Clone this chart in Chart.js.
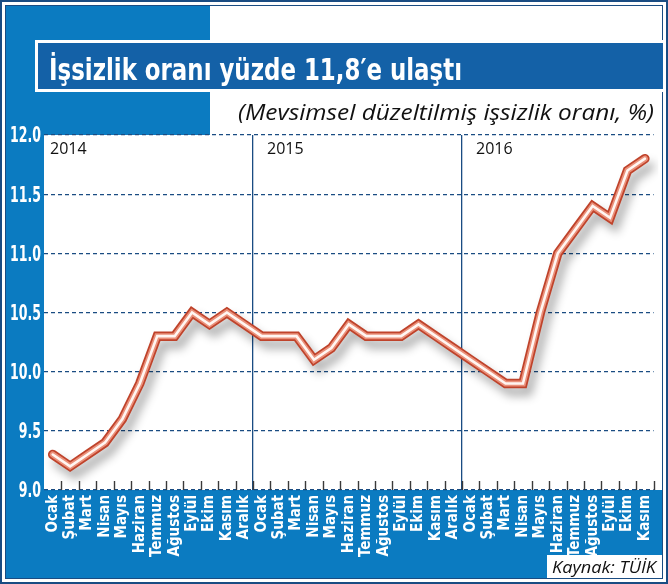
<!DOCTYPE html>
<html>
<head>
<meta charset="utf-8">
<script src="https://cdn.jsdelivr.net/npm/chart.js@4"></script>
<style>
  html, body { margin: 0; padding: 0; background: #fff; }
  #wrap { width: 668px; height: 584px; }
</style>
</head>
<body>
<div id="wrap"><canvas id="grafico" width="668" height="584"></canvas></div>
<script>
// Ay adlari ve yillar
const months = ['Ocak', 'Şubat', 'Mart', 'Nisan', 'Mayıs', 'Haziran', 'Temmuz', 'Ağustos', 'Eylül', 'Ekim', 'Kasım', 'Aralık']
const years = ['2014', '2015', '2016']
const monthsPerYear = [12, 12, 11]

// Mevsimsel duzeltilmis issizlik orani (%)
const rates2014 = [9.3, 9.2, 9.3, 9.4, 9.6, 9.9, 10.3, 10.3, 10.5, 10.4, 10.5, 10.4]
const rates2015 = [10.3, 10.3, 10.3, 10.1, 10.2, 10.4, 10.3, 10.3, 10.3, 10.4, 10.3, 10.2]
const rates2016 = [10.1, 10.0, 9.9, 9.9, 10.5, 11.0, 11.2, 11.4, 11.3, 11.7, 11.8]

const yTicks = [9.0, 9.5, 10.0, 10.5, 11.0, 11.5, 12.0]

const titleText = 'İşsizlik oranı yüzde 11,8′e ulaştı'
const subtitleText = '(Mevsimsel düzeltilmiş işsizlik oranı, %)'
const sourceText = 'Kaynak: TÜİK'

const labels = []
monthsPerYear.forEach((n) => {
  for (let i = 0; i < n; i++) labels.push(months[i])
})
const rates = rates2014.concat(rates2015, rates2016)

const BLUE = '#0b7bc1'
const NAVY = '#1a4c82'
const TITLE_BLUE = '#1461a7'
const NARROW = "'Liberation Sans Narrow', 'DejaVu Sans Condensed', sans-serif"

// metni verilen genislige sigdir
const fitText = (ctx, text, x, y, width, align) => {
  const w = ctx.measureText(text).width
  const sx = width / w
  ctx.save()
  ctx.translate(x, y)
  ctx.scale(sx, 1)
  ctx.textAlign = 'left'
  ctx.fillText(text, align === 'right' ? -w : 0, 0)
  ctx.restore()
}

const backgroundPlugin = {
  id: 'arkaPlan',
  beforeDraw: (chart) => {
    const ctx = chart.ctx
    const area = chart.chartArea
    ctx.save()
    ctx.fillStyle = '#fff'
    ctx.fillRect(0, 0, 668, 584)
    // mavi alanlar
    ctx.fillStyle = BLUE
    ctx.fillRect(6, 6, 204, area.top - 6)
    ctx.fillRect(6, 6, area.left - 6, 572)
    ctx.fillRect(6, area.bottom, 656, 578 - area.bottom)
    // cerceve
    ctx.strokeStyle = NAVY
    ctx.lineWidth = 2
    ctx.strokeRect(1, 1, 666, 582)
    ctx.lineWidth = 1
    ctx.strokeRect(5.5, 5.5, 657, 573)
    ctx.restore()
  },
  afterDraw: (chart) => {
    const ctx = chart.ctx
    const area = chart.chartArea
    const xs = chart.scales.x
    const ys = chart.scales.y
    const step = xs.getPixelForValue(1) - xs.getPixelForValue(0)
    ctx.save()
    // baslik bandi
    ctx.fillStyle = '#fff'
    ctx.fillRect(35, 40, 628, 52)
    ctx.fillStyle = TITLE_BLUE
    ctx.fillRect(38, 43, 625, 46)
    ctx.fillStyle = '#fff'
    ctx.font = 'bold 31px ' + NARROW
    ctx.textBaseline = 'alphabetic'
    fitText(ctx, titleText, 49, 80, 413, 'left')
    // y ekseni etiketleri (dar yazi)
    ctx.font = 'bold 21px ' + NARROW
    ctx.textBaseline = 'middle'
    const sy = 31 / ctx.measureText('12.0').width
    yTicks.forEach((v) => {
      const t = v.toFixed(1)
      const w = ctx.measureText(t).width * sy
      fitText(ctx, t, 41 - w, ys.getPixelForValue(v) + 2, w, 'left')
    })
    ctx.textBaseline = 'alphabetic'
    // alt baslik
    ctx.fillStyle = '#111'
    ctx.font = "italic 21px 'Open Sans', 'Noto Sans', sans-serif"
    fitText(ctx, subtitleText, 654, 120, 416, 'right')
    // x ekseni ic cizgileri
    ctx.strokeStyle = '#3a3a3a'
    ctx.lineWidth = 1.4
    for (let i = 1; i <= labels.length; i++) {
      const x = Math.round(xs.getPixelForValue(i - 1) + step / 2) + 0.5
      ctx.beginPath()
      ctx.moveTo(x, area.bottom - 9)
      ctx.lineTo(x, area.bottom)
      ctx.stroke()
    }
    // yil etiketleri
    ctx.fillStyle = '#111'
    ctx.font = "16px 'Open Sans', 'Noto Sans', sans-serif"
    let start = 0
    years.forEach((yr, k) => {
      const left = xs.getPixelForValue(start) - step / 2
      ctx.fillText(yr, left + (k === 0 ? 6 : 14), 154)
      start += monthsPerYear[k]
    })
    // kaynak kutusu
    ctx.fillStyle = '#fff'
    ctx.fillRect(547, 555, 115, 23)
    ctx.fillStyle = '#111'
    ctx.font = "italic 17px 'Open Sans', 'Noto Sans', sans-serif"
    fitText(ctx, sourceText, 552, 573, 104, 'left')
    ctx.restore()
  },
  beforeDatasetDraw: (chart, args) => {
    if (args.index === 0) {
      const ctx = chart.ctx
      ctx.save()
      ctx.shadowColor = 'rgba(0, 0, 0, 0.3)'
      ctx.shadowBlur = 10
      ctx.shadowOffsetX = 5
      ctx.shadowOffsetY = 8
    }
  },
  afterDatasetDraw: (chart, args) => {
    if (args.index === 0) chart.ctx.restore()
  },
}

const boundaries = [monthsPerYear[0], monthsPerYear[0] + monthsPerYear[1]]

const ctx = document.getElementById('grafico').getContext('2d')
const myChart = new Chart(ctx, {
  type: 'line',
  data: {
    labels: labels,
    datasets: [
      {
        data: rates,
        borderColor: '#bf432b',
        borderWidth: 9.5,
        order: 3,
      },
      {
        data: rates,
        borderColor: '#ea907a',
        borderWidth: 6,
        order: 2,
      },
      {
        data: rates,
        borderColor: '#fff6f2',
        borderWidth: 2.6,
        order: 1,
      },
    ],
  },
  options: {
    responsive: false,
    animation: false,
    devicePixelRatio: 1,
    layout: { padding: { top: 135, right: 8, left: 0, bottom: 0 } },
    elements: {
      point: { radius: 0, hoverRadius: 0 },
      line: { tension: 0, borderJoinStyle: 'miter', borderCapStyle: 'round', fill: false },
    },
    plugins: {
      legend: { display: false },
      tooltip: { enabled: false },
    },
    scales: {
      x: {
        offset: true,
        afterFit: (scale) => { scale.height = 94 },
        grid: {
          offset: true,
          drawTicks: false,
          lineWidth: 1.3,
          color: (c) => (boundaries.includes(c.index) ? NAVY : 'rgba(0,0,0,0)'),
        },
        border: { display: false },
        ticks: {
          autoSkip: false,
          minRotation: 90,
          maxRotation: 90,
          padding: 5,
          color: '#fff',
          font: { family: NARROW, size: 15, weight: 'bold' },
        },
      },
      y: {
        min: yTicks[0],
        max: yTicks[yTicks.length - 1],
        afterFit: (scale) => { scale.width = 44 },
        afterBuildTicks: (scale) => { scale.ticks = yTicks.map((v) => ({ value: v })) },
        grid: { color: NAVY, lineWidth: 1.2, drawTicks: false },
        border: { display: false, dash: [4, 3] },
        ticks: { display: false },
      },
    },
  },
  plugins: [backgroundPlugin],
})
</script>
</body>
</html>
